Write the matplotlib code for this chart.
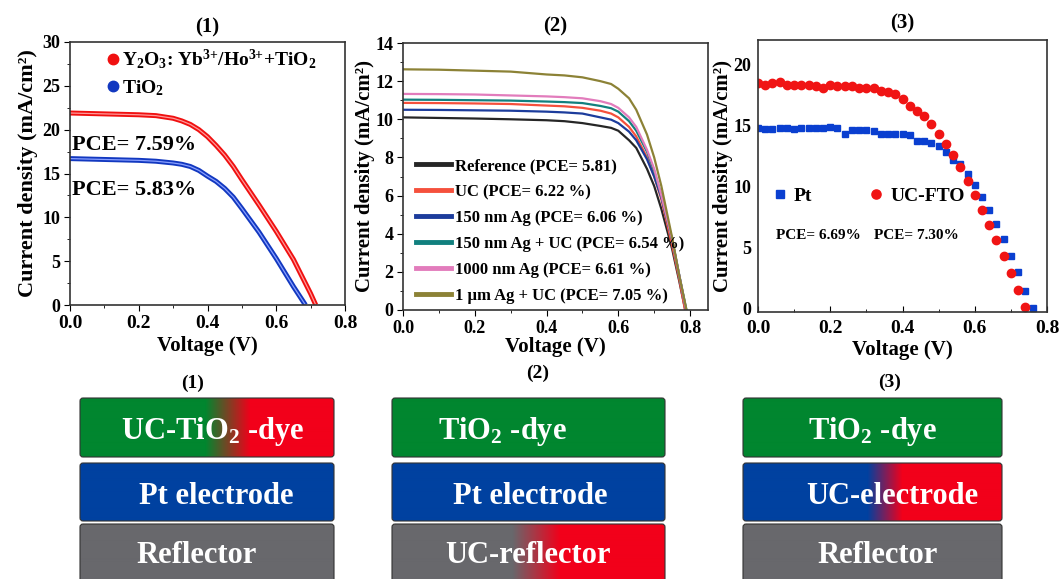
import numpy as np
import matplotlib
matplotlib.use("Agg")
import matplotlib.pyplot as plt
from matplotlib.patches import FancyBboxPatch
from matplotlib.colors import to_rgb
from matplotlib.ticker import MultipleLocator

plt.rcParams['font.family'] = ['Liberation Serif', 'DejaVu Serif']
plt.rcParams['font.weight'] = 'bold'
plt.rcParams['axes.labelweight'] = 'bold'
plt.rcParams['axes.titleweight'] = 'bold'
plt.rcParams['mathtext.fontset'] = 'custom'
plt.rcParams['mathtext.rm'] = 'Liberation Serif:bold'
plt.rcParams['mathtext.bf'] = 'Liberation Serif:bold'
plt.rcParams['mathtext.it'] = 'Liberation Serif:bold:italic'
plt.rcParams['mathtext.default'] = 'rm'

# ---- panel (1): UC-TiO2 photoanode ----
v1 = [0.0, 0.1, 0.2, 0.25, 0.3, 0.325, 0.35, 0.375, 0.4, 0.425, 0.45, 0.475, 0.5,
      0.55, 0.6, 0.65, 0.7, 0.715]
j1_uc = [21.9, 21.8, 21.7, 21.6, 21.3, 21.0, 20.6, 20.0, 19.2, 18.2, 17.1, 15.8, 14.3,
         11.4, 8.4, 5.2, 1.3, 0.0]
v1_ti = [0.0, 0.1, 0.2, 0.25, 0.3, 0.325, 0.35, 0.375, 0.4, 0.425, 0.45, 0.475, 0.5,
         0.55, 0.6, 0.65, 0.685]
j1_ti = [16.7, 16.6, 16.5, 16.4, 16.2, 16.05, 15.8, 15.35, 14.7, 14.1, 13.3, 12.3, 11.0,
         8.3, 5.3, 2.1, 0.0]
labels1 = [r'Y$_2$O$_3$: Yb$^{3\text{+}}$/Ho$^{3\text{+}}$+TiO$_2$', r'TiO$_2$']
pce1 = ['PCE= 7.59%', 'PCE= 5.83%']

# ---- panel (2): reflector ----
v2 = [0.0, 0.1, 0.2, 0.3, 0.4, 0.45, 0.5, 0.55, 0.58, 0.6, 0.63, 0.65, 0.68, 0.7, 0.72,
      0.75, 0.77, 0.79]
j2 = {
    'Reference (PCE= 5.81)':        [10.1, 10.07, 10.04, 10.0, 9.95, 9.9, 9.8, 9.65, 9.55, 9.4, 8.9, 8.5, 7.4, 6.5, 5.3, 3.2, 1.5, -0.3],
    'UC (PCE= 6.22 %)':             [10.86, 10.85, 10.83, 10.8, 10.72, 10.68, 10.6, 10.45, 10.3, 10.1, 9.6, 9.1, 8.0, 7.0, 5.8, 3.4, 1.6, -0.4],
    '150 nm Ag (PCE= 6.06 %)':      [10.5, 10.49, 10.47, 10.45, 10.4, 10.36, 10.3, 10.1, 9.98, 9.8, 9.35, 8.9, 7.9, 7.0, 5.9, 3.7, 1.8, -0.1],
    '150 nm Ag + UC (PCE= 6.54 %)': [11.03, 11.02, 11.0, 10.98, 10.93, 10.9, 10.85, 10.7, 10.58, 10.4, 9.9, 9.4, 8.3, 7.3, 6.0, 3.7, 1.8, 0.0],
    '1000 nm Ag (PCE= 6.61 %)':     [11.33, 11.32, 11.3, 11.25, 11.2, 11.16, 11.1, 10.95, 10.8, 10.6, 10.1, 9.6, 8.4, 7.4, 6.0, 3.7, 1.8, -0.1],
    '1 \u03bcm Ag + UC (PCE= 7.05 %)': [12.62, 12.6, 12.55, 12.5, 12.35, 12.3, 12.2, 12.0, 11.85, 11.6, 11.1, 10.5, 9.2, 8.0, 6.5, 3.8, 1.8, 0.0],
}
colors2 = ['#262626', '#f5503c', '#1c3c9c', '#11807e', '#e27cbc', '#8c8236']

# ---- panel (3): UC counter electrode ----
v3_pt = [round(0.02 * i, 2) for i in range(39)]
j3_pt = [14.8, 14.7, 14.7, 14.8, 14.8, 14.7, 14.8, 14.75, 14.75, 14.8,
         14.9, 14.8, 14.3, 14.6, 14.6, 14.6, 14.5, 14.3, 14.3, 14.3,
         14.3, 14.2, 13.7, 13.7, 13.55, 13.3, 12.8, 12.2, 11.8, 11.0,
         10.1, 9.1, 8.05, 6.9, 5.7, 4.3, 2.95, 1.4, 0.0]
v3_uc = [round(0.02 * i, 2) for i in range(38)]
j3_uc = [18.5, 18.35, 18.5, 18.55, 18.3, 18.3, 18.3, 18.35, 18.2, 18.1,
         18.3, 18.25, 18.2, 18.2, 18.1, 18.1, 18.05, 17.8, 17.7, 17.55,
         17.2, 16.6, 16.2, 15.8, 15.1, 14.3, 13.5, 12.6, 11.6, 10.4,
         9.3, 8.1, 6.8, 5.6, 4.3, 2.9, 1.5, 0.1]
pce3 = ['PCE= 6.69%', 'PCE= 7.30%']

W, H = 1064, 579
fig = plt.figure(figsize=(W / 100, H / 100), dpi=100)

# ---- schematic stacks (drawn in pixel coordinates) ----
ax_d = fig.add_axes([0, 0, 1, 1])
ax_d.set_xlim(0, W)
ax_d.set_ylim(H, 0)
ax_d.axis('off')

GREEN, BLUE, GRAY, RED = '#01862f', '#0041a0', '#68686c', '#f2001a'
rows = [(398, 457), (463, 521), (524, 585)]
stacks = [
    (80, 334, '(1)', (193, 383), [
        (r'UC-TiO$_2$ -dye', 213, GREEN, RED, 205, 250),
        ('Pt electrode', 216, BLUE, None, 0, 0),
        ('Reflector', 197, GRAY, None, 0, 0)]),
    (392, 665, '(2)', (538, 373), [
        (r'TiO$_2$ -dye', 502, GREEN, None, 0, 0),
        ('Pt electrode', 530, BLUE, None, 0, 0),
        ('UC-reflector', 528, GRAY, RED, 512, 560)]),
    (743, 1002, '(3)', (890, 382), [
        (r'TiO$_2$ -dye', 872, GREEN, None, 0, 0),
        ('UC-electrode', 892, BLUE, RED, 867, 902),
        ('Reflector', 878, GRAY, None, 0, 0)]),
]
for x0, x1, tag, tagpos, layers in stacks:
    ax_d.text(tagpos[0], tagpos[1], tag, ha='center', va='center', fontsize=14)
    for (y0, y1), (txt, tx, c0, c1, g0, g1) in zip(rows, layers):
        xs = np.arange(x0, x1)
        if c1 is None:
            c1, frac = c0, np.zeros(len(xs))
        else:
            frac = np.clip((xs - g0) / (g1 - g0), 0, 1)
        rgb = (1 - frac)[:, None] * np.array(to_rgb(c0)) + frac[:, None] * np.array(to_rgb(c1))
        im = ax_d.imshow(rgb[None, :, :], extent=[x0, x1, y1, y0], aspect='auto',
                         interpolation='bilinear', zorder=1)
        box = FancyBboxPatch((x0, y0), x1 - x0, y1 - y0,
                             boxstyle='round,pad=0,rounding_size=3',
                             facecolor='none', edgecolor='#333333', lw=0.8, zorder=2)
        ax_d.add_patch(box)
        im.set_clip_path(box)
        ax_d.text(tx, (y0 + min(y1, 579)) / 2 + 4, txt, ha='center', va='center',
                  color='white', fontsize=22, zorder=3)
ax_d.set_xlim(0, W)
ax_d.set_ylim(H, 0)


def style(ax, ticks_in=False):
    for s in ax.spines.values():
        s.set_linewidth(1.2)
        s.set_color('#333333')
    d = 'in' if ticks_in else 'out'
    ax.tick_params(which='both', direction=d, top=False, right=False, labelsize=13, pad=3)
    ax.tick_params(which='major', length=4)
    ax.tick_params(which='minor', length=2)


def px_rect(l, r, t, b):
    return [l / W, 1 - b / H, (r - l) / W, (b - t) / H]


YLAB = 'Current density (mA/cm\u00b2)'

# ---- panel (1) ----
ax1 = fig.add_axes(px_rect(70, 345, 42, 305))
for v, j, c, cl, lab in [(v1, j1_uc, '#f01010', '#ff9a9a', labels1[0]),
                         (v1_ti, j1_ti, '#1238c0', '#8aa0ff', labels1[1])]:
    ax1.plot(v, j, color=c, lw=3.6, solid_capstyle='butt')
    ax1.plot(v, j, color=cl, lw=0.9)
    ax1.plot([], [], ls='none', marker='o', ms=7.5, color=c, label=lab)
ax1.set_xlim(0, 0.8)
ax1.set_ylim(0, 30)
ax1.xaxis.set_major_locator(MultipleLocator(0.2))
ax1.xaxis.set_minor_locator(MultipleLocator(0.1))
ax1.yaxis.set_major_locator(MultipleLocator(5))
ax1.yaxis.set_minor_locator(MultipleLocator(2.5))
ax1.xaxis.set_major_formatter(lambda x, p: f'{x:.1f}')
style(ax1)
ax1.tick_params(axis='x', labelsize=14)
ax1.set_title('(1)', fontsize=15, pad=7)
ax1.set_xlabel('Voltage (V)', fontsize=15, labelpad=3)
ax1.set_ylabel(YLAB, fontsize=16, labelpad=3)
ax1.legend(loc='upper left', bbox_to_anchor=(0.1, 1.01), frameon=False, fontsize=14,
           handlelength=0.8, handletextpad=0.05, labelspacing=0.35, borderaxespad=0)
ax1.text(0.005, 18.2, pce1[0], fontsize=16, va='center')
ax1.text(0.005, 13.1, pce1[1], fontsize=16, va='center')

# ---- panel (2) ----
ax2 = fig.add_axes(px_rect(403, 708, 43, 310))
for (lab, j), c in zip(j2.items(), colors2):
    ax2.plot(v2, j, color=c, lw=1.6, label=lab)
ax2.set_xlim(0, 0.85)
ax2.set_ylim(0, 14)
ax2.xaxis.set_major_locator(MultipleLocator(0.2))
ax2.xaxis.set_minor_locator(MultipleLocator(0.1))
ax2.yaxis.set_major_locator(MultipleLocator(2))
ax2.yaxis.set_minor_locator(MultipleLocator(1))
ax2.xaxis.set_major_formatter(lambda x, p: f'{x:.1f}')
style(ax2)
ax2.set_title('(2)', fontsize=15, pad=8)
ax2.set_xlabel('Voltage (V)', fontsize=15, labelpad=0)
ax2.set_ylabel(YLAB, fontsize=15, labelpad=0)
leg2 = ax2.legend(loc='lower left', bbox_to_anchor=(0.01, -0.015), frameon=False, fontsize=12,
                  handlelength=2.1, handletextpad=0.25, labelspacing=0.6, borderaxespad=0.2)
for ln in leg2.get_lines():
    ln.set_linewidth(3.5)

# ---- panel (3) ----
ax3 = fig.add_axes(px_rect(758, 1047, 40, 312))
ax3.plot(v3_pt, j3_pt, ls='none', marker='s', ms=5, color='#0a3fd0', label='Pt')
ax3.plot(v3_uc, j3_uc, ls='none', marker='o', ms=6, color='#f01414', label='UC-FTO')
ax3.set_xlim(0, 0.8)
ax3.set_ylim(-0.3, 22)
ax3.xaxis.set_major_locator(MultipleLocator(0.2))
ax3.xaxis.set_minor_locator(MultipleLocator(0.1))
ax3.yaxis.set_major_locator(MultipleLocator(5))
ax3.xaxis.set_major_formatter(lambda x, p: f'{x:.1f}')
style(ax3, ticks_in=True)
ax3.tick_params(axis='y', length=0, pad=5)
ax3.tick_params(axis='x', labelsize=14, pad=6)
ax3.set_title('(3)', fontsize=15, pad=8)
ax3.set_xlabel('Voltage (V)', fontsize=15, labelpad=2)
ax3.set_ylabel(YLAB, fontsize=15, labelpad=0)
ax3.legend(loc='center left', bbox_to_anchor=(0.01, 0.425), ncol=2, frameon=False, fontsize=14,
           handlelength=1.2, handletextpad=0.1, columnspacing=2.7, borderaxespad=0,
           markerscale=1.1)
ax3.text(0.05, 6.0, pce3[0], fontsize=11, va='center')
ax3.text(0.32, 6.0, pce3[1], fontsize=11, va='center')

fig.savefig('out.png', dpi=100)
